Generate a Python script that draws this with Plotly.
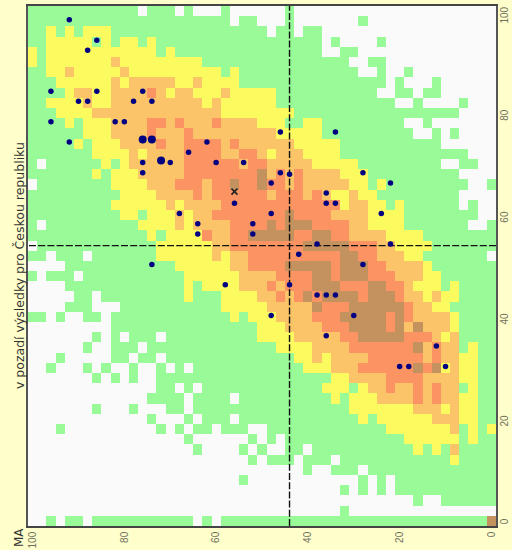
import plotly.graph_objects as go

LEVELS = {"W": 0, "G": 1, "Y": 2, "O": 3, "R": 4, "B": 5}
LEVEL_COLORS = ["#FAFAFA", "#98FB98", "#FBFB5F", "#FBC468", "#FB9462", "#C4925F"]
AXIS_VALUES = list(range(100, -1, -2))
TICKS = [0, 20, 40, 60, 80, 100]
Y_TICK_SPOTS = [-0.4, 19.3, 39.3, 59.3, 79.3, 98.9]

ROWS = [
"G12 W1 G3 W1 G1 W3 G1 W6 G1 W22",
"G22 W1 G2 W3 G1 W7 G1 W14",
"G2 Y1 G1 Y1 G1 Y3 G17 W1 G2 W1 G2 W19",
"G2 Y5 G1 Y1 G1 Y2 G1 Y1 G18 W1 G1 W4 G1 W12",
"Y1 G1 Y12 G1 Y1 G16 W2 G2 W15",
"Y1 G1 Y7 O1 Y9 G16 W2 G2 W12",
"G2 Y2 O1 Y5 O1 Y10 G1 Y1 G13 W2 G1 W2 G1 W9",
"G3 Y6 O1 Y1 O5 Y2 O1 Y4 G16 W1 G1 W3 G1 W6",
"G4 Y1 O2 Y2 O4 R1 O1 Y1 O2 Y3 O1 Y5 G11 W2 G2 W1 G2 W6",
"G2 Y4 O1 Y2 O10 Y1 O1 Y6 G13 W2 G1 W4 G1 W3",
"G3 Y4 O14 Y8 G18 W4",
"G4 Y1 G1 Y3 O4 R2 O1 R1 O3 R1 O4 Y3 G2 Y2 G9 W2 G1 W7",
"G6 Y3 O4 R1 O3 R1 O9 Y5 G10 W2 G1 W1 G1 W4",
"G5 Y1 G1 Y3 O4 R1 O2 R4 O1 R1 O6 Y5 G11 W6",
"G7 Y4 O1 Y1 O4 R4 O2 R2 O1 Y1 O3 Y4 G14 W3",
"G1 W1 G6 Y1 G1 Y1 O6 R6 O1 R2 O5 Y5 G9 W2 G2 W2",
"G7 Y1 G1 Y3 O5 R8 B1 O1 R1 O1 R1 O4 Y3 G10 W4",
"W1 G8 Y4 O3 R3 O1 R2 B1 R2 B1 R2 O1 R1 O5 Y2 G1 Y1 G9 W2 G1",
"G10 Y4 O4 R1 O1 R5 R1 O1 R2 R1 O1 R1 O1 Y2 O1 Y2 G9 W4",
"G9 Y6 O1 Y1 O4 R13 Y1 O2 Y2 G1 Y1 G6 W1 G1 W2",
"G10 Y2 G1 Y3 O1 Y1 O2 R8 B1 R4 O4 Y4 G8 W2",
"G1 W1 G10 Y4 O1 Y1 O4 R4 B1 R1 B3 R4 O2 Y4 G7 W2 G1",
"G13 Y1 G1 Y4 R1 O2 R2 B5 R2 B2 R2 O4 Y4 G8",
"W1 G13 Y6 O2 R8 B5 R3 O2 Y4 G7",
"G2 W1 G3 W1 G7 Y6 O1 Y1 O2 R10 B2 R2 O3 Y2 G7 W1",
"W4 G12 Y6 O2 R4 B5 R1 B3 R2 O4 Y1 G7",
"G1 W1 G3 W1 G11 Y6 O4 R4 B2 R1 B3 R3 O3 Y2 G6",
"W4 G13 Y1 G1 Y4 O3 R1 O1 R3 B3 R3 B2 R2 O1 Y3 G1 Y1 G4",
"W5 G2 W1 G9 Y1 G3 Y4 O2 R1 O1 R1 B1 R1 B4 R1 B3 R1 O2 Y1 O1 Y2 G4",
"W4 G3 W3 G11 Y5 O5 B1 R3 B6 R1 O2 Y2 G5",
"G2 W1 G1 W2 G2 W1 G13 Y1 G1 Y3 O4 R3 B5 R1 B1 R1 O4 Y1 G4",
"W9 G16 Y3 O4 R3 B4 R1 B1 O1 B1 O3 Y1 G4",
"W7 G1 W1 G1 W1 G3 W1 G10 Y4 O5 R2 B5 R3 O1 Y1 O1 G4",
"W6 G1 W2 G3 W1 G14 Y4 O4 R7 B1 O1 R1 O2 G1 Y1 G2",
"W3 G1 W5 G2 W1 G2 W1 G14 Y2 O1 Y1 O4 R6 O1 R1 O2 Y2 G2",
"W2 G1 W3 G1 W1 G1 W2 G1 W2 G1 W1 G1 W1 G12 Y3 O3 R6 B1 R1 B1 Y1 O1 Y2 G2",
"W7 G1 W1 G1 W1 G1 W2 G19 Y2 O4 R4 O4 Y2 G2",
"W14 G2 W1 G1 W1 G13 Y3 G1 Y1 O2 R1 O2 R1 O1 R1 O2 G1 Y1 G2",
"W13 G4 W1 G4 W1 G10 Y1 G1 Y3 O4 R1 O1 R1 O2 Y2 G2",
"W7 G1 W3 G1 W3 G2 W1 G17 Y7 O3 Y1 O1 Y2 G2",
"W13 G1 W3 G1 W1 G3 W1 G13 Y1 G1 Y6 O3 Y2 G2",
"W3 G1 W10 G1 W1 G1 W1 G2 W1 G3 W2 G13 Y7 O1 G1 Y1 G1 Y1",
"W17 G1 W6 G1 W1 G1 W1 G13 Y6 G1 Y1 G2",
"W18 G1 W4 G1 W1 G1 W2 G2 W1 G11 Y1 G1 Y1 G1 O1 G4",
"W24 G1 W1 G3 W1 G3 W1 G12 Y1 G4",
"W30 G1 W2 G3 W1 G14",
"W23 G1 W12 G1 W1 G1 W1 G11",
"W34 G1 W1 G1 W1 G1 W1 G11",
"W42 G1 W2 G6",
"W34 G1 W16",
"W2 G1 W1 G2 W1 G11 W1 G1 W1 G29 B1",
]

SCHOOL_X = [92, 86, 88, 96, 86, 76, 90, 88, 78, 74, 96, 82, 80, 92, 62, 66, 76, 70, 60, 54, 76,
            56, 68, 64, 52, 64, 52, 74, 46, 34, 46, 44, 28, 48, 22, 36, 36, 34, 48, 24,
            38, 22, 42, 28, 58, 44, 38, 36, 34, 48, 30, 36, 12, 20, 18, 10]
SCHOOL_Y = [98.3, 94.3, 92.3, 84.3, 84.3, 84.3, 82.3, 82.3, 82.3, 82.3, 78.3, 78.3, 78.3, 74.3, 74.3,
            72.3, 70.3, 70.3, 70.3, 70.3, 68.3, 62.3, 60.3, 58.3, 58.3, 56.3, 56.3, 50.3, 76.3, 76.3,
            68.3, 68, 68.3, 66.3, 66.3, 64.3, 62.3, 62.3, 60.3, 60.3, 54.3, 54.3, 52.3, 50.3,
            46.3, 46.3, 44.3, 44.3, 44.3, 40.3, 40.3, 36.3, 34.3, 30.3, 30.3, 30.3]
BIG_X = [76, 74, 72]
BIG_Y = [74.8, 74.8, 70.7]
CROSS_X = [56]
CROSS_Y = [64.6]
MEAN_X = 44
MEAN_Y = 54
TITLE = "v pozadí výsledky pro Českou republiku"
CORNER = "MA"


def decode(row):
    cells = []
    for run in row.split():
        cells += [LEVELS[run[0]]] * int(run[1:])
    return cells


z = [decode(r) for r in ROWS]
for i, r in enumerate(z):
    if len(r) != 51:
        print("row", i, len(r))

n = len(LEVEL_COLORS)
scale = []
for i, c in enumerate(LEVEL_COLORS):
    scale += [[i / n, c], [(i + 1) / n, c]]

fig = go.Figure()
fig.add_trace(go.Heatmap(x=AXIS_VALUES, y=AXIS_VALUES, z=z, zmin=0, zmax=n, colorscale=scale,
                         showscale=False, hoverinfo="skip"))
dash = dict(color="#111111", width=1.4, dash="7px,2.2px")
fig.add_trace(go.Scatter(x=[MEAN_X, MEAN_X], y=[-1, 101], mode="lines", line=dash, showlegend=False))
fig.add_trace(go.Scatter(x=[-1, 101], y=[MEAN_Y, MEAN_Y], mode="lines", line=dash, showlegend=False))
fig.add_trace(go.Scatter(x=SCHOOL_X, y=SCHOOL_Y, mode="markers", showlegend=False,
                         marker=dict(color="#000080", size=5.5, line=dict(width=0))))
fig.add_trace(go.Scatter(x=BIG_X, y=BIG_Y, mode="markers", showlegend=False,
                         marker=dict(color="#000080", size=8, line=dict(width=0))))
fig.add_trace(go.Scatter(x=CROSS_X, y=CROSS_Y, mode="markers", showlegend=False,
                         marker=dict(symbol="x-thin", color="#222222", size=6,
                                     line=dict(width=1.6, color="#222222"))))

tick_font = dict(family="Liberation Sans", size=10, color="#6e6e5c")
fig.update_layout(
    width=512, height=550, autosize=False,
    margin=dict(l=28, r=16, t=6, b=24, pad=0),
    paper_bgcolor="#FFFFCC", plot_bgcolor="#FAFAFA",
    font=dict(family="DejaVu Sans"),
    xaxis=dict(range=[101, -1], automargin=False, tickmode="array", tickvals=TICKS,
               ticktext=[str(t) for t in TICKS],
               tickangle=-90, ticks="", showgrid=False, zeroline=False, showline=True, mirror=True,
               linecolor="#444444", linewidth=1.5, tickfont=tick_font),
    yaxis=dict(range=[-1, 101], automargin=False, side="right", tickmode="array", tickvals=Y_TICK_SPOTS,
               ticktext=[str(t) for t in TICKS], tickangle=-90, ticks="", showgrid=False,
               zeroline=False, showline=True, mirror=True, linecolor="#555555", linewidth=1.5,
               tickfont=tick_font, ticklabelstandoff=-2),
    annotations=[
        dict(text=TITLE, xref="paper", yref="paper", x=0, y=0.5, xanchor="center", yanchor="middle",
             xshift=-9, textangle=-90, showarrow=False,
             font=dict(family="DejaVu Sans", size=12.5, color="#333333")),
        dict(text=CORNER, xref="paper", yref="paper", x=0, y=0, xanchor="center", yanchor="middle",
             xshift=-9, yshift=-12, textangle=-90, showarrow=False,
             font=dict(family="DejaVu Sans", size=12, color="#333333")),
    ],
)
fig.write_html("out.html", config={"displayModeBar": False},
               post_script="document.body.style.margin='0';document.body.style.background='#FFFFCC';")
